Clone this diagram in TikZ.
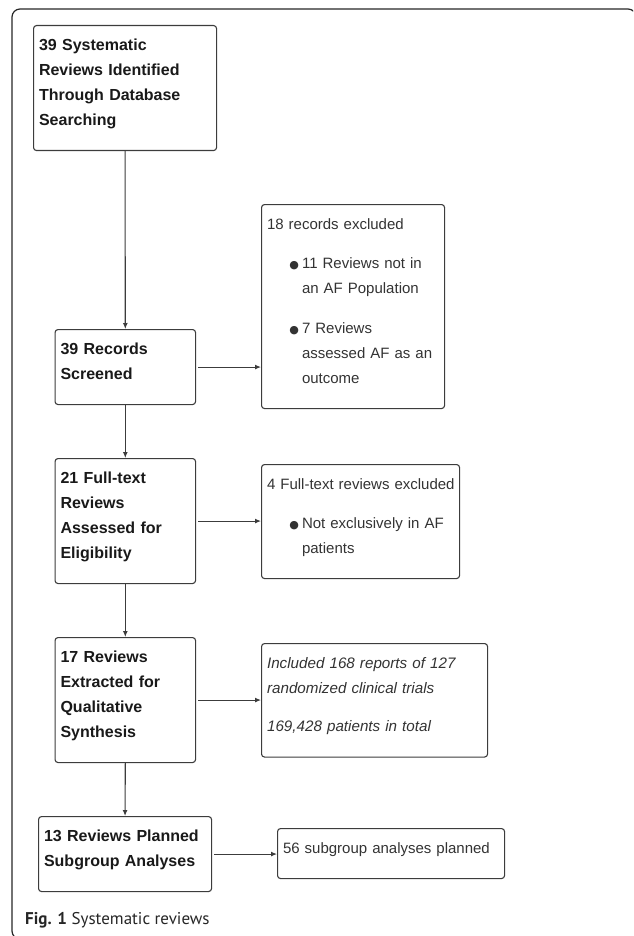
\documentclass[tikz,border=0pt]{standalone}
\usepackage{fontspec}
\setmainfont{Liberation Sans}
\newfontfamily\capfont{PT Sans}
\newfontfamily\symfont{DejaVu Sans}
\usetikzlibrary{arrows.meta}

\definecolor{linegray}{HTML}{3C3C3C}
\definecolor{textgray}{HTML}{333333}
% bullet line with hanging text
\newcommand{\exclitem}[1]{\endgraf\vspace{14pt}\noindent
  \makebox[35pt][r]{{\symfont\fontsize{11}{11}\selectfont\char"25CF}\hspace{3pt}}%
  \parbox[t]{\dimexpr\linewidth-35pt\relax}{\strut#1\strut}}
% no breaks inside words, and room above and under the text of a box
\newcommand{\boxhead}{\hyphenpenalty=10000 \exhyphenpenalty=10000 \strut}
\newcommand{\boxfoot}{\strut\endgraf\kern11pt}

\begin{document}
\begin{tikzpicture}[x=1pt, y=-1pt, >={Latex[length=6pt,width=5pt]},
    box/.style={draw=linegray, line width=1.1pt, rounded corners=3pt,
      anchor=north west, align=left, inner xsep=5.5pt, inner ysep=7pt,
      execute at begin node=\boxhead,
      execute at end node=\boxfoot},
    revbox/.style={box, font=\fontsize{16}{25}\selectfont\bfseries, text=black!90},
    exclbox/.style={box, font=\fontsize{15}{25}\selectfont, text=textgray},
    flow/.style={->, draw=linegray, line width=1.1pt}]
    \useasboundingbox (0,0) rectangle (633,936);

    % outer frame, cut at the page edge
    \begin{scope}
      \clip (0,0) rectangle (633,936);
      \draw[black!85, line width=1.2pt, rounded corners=8pt] (12,9) rectangle (636,939);
    \end{scope}

    % main column
    \node[revbox, text width=172pt] (search) at (33,25)
      {39 Systematic\newline Reviews Identified\newline Through Database\newline Searching};
    \node[revbox, text width=129.5pt] (screen) at (54.5,329)
      {39 Records\newline Screened};
    \node[revbox, text width=129.5pt] (fulltext) at (54.5,458)
      {21 Full-text\newline Reviews\newline Assessed for\newline Eligibility};
    \node[revbox, text width=129.5pt] (extract) at (54.5,637)
      {17 Reviews\newline Extracted for\newline Qualitative\newline Synthesis};
    \node[revbox, text width=162pt] (planned) at (38,816)
      {13 Reviews Planned\newline Subgroup Analyses};

    % side boxes
    \node[exclbox, text width=172pt] (excl1) at (261,204)
      {18 records excluded
       \exclitem{11 Reviews not in\newline an AF Population}
       \exclitem{7 Reviews\newline assessed AF as an\newline outcome}};
    \node[exclbox, text width=187pt] (excl2) at (261,464)
      {\mbox{4 Full-text reviews excluded}
       \exclitem{Not exclusively in AF\newline patients}};
    \node[exclbox, text width=215pt, font=\fontsize{15.2}{25}\selectfont\itshape] (incl) at (261,643)
      {Included 168 reports of 127\newline randomized clinical trials\endgraf\vspace{13.5pt}169,428 patients in total};
    \node[exclbox, text width=216pt] (subgr) at (277,828)
      {56 subgroup analyses planned};

    % connectors
    \draw[flow] (search.south) -- (screen.north);
    \draw[flow] (screen.south) -- (fulltext.north);
    \draw[flow] (fulltext.south) -- (extract.north);
    \draw[flow] (extract.south) -- (planned.north);
    \draw[flow, shorten <=2pt] (screen.east) -- (screen.east -| excl1.west);
    \draw[flow, shorten <=2pt] (fulltext.east) -- (fulltext.east -| excl2.west);
    \draw[flow, shorten <=2pt] (extract.east) -- (extract.east -| incl.west);
    \draw[flow, shorten <=2pt] (planned.east) -- (planned.east -| subgr.west);

    \node[anchor=base west, text=black!85, inner sep=0pt,
      font=\capfont\fontsize{17}{20}\selectfont] (caption) at (25,924)
      {\textbf{Fig. 1} Systematic reviews};
\end{tikzpicture}
\end{document}
